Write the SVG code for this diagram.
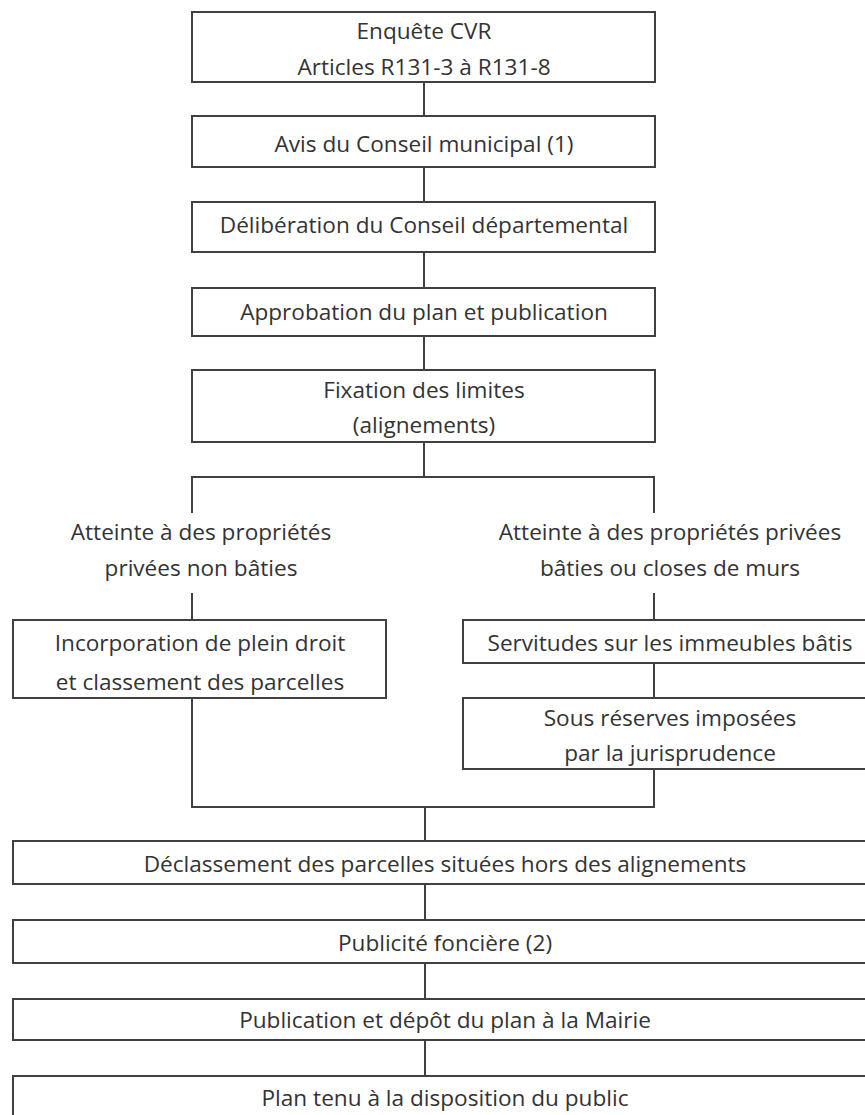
<svg xmlns="http://www.w3.org/2000/svg" width="865" height="1115" viewBox="0 0 865 1115">
<style>
.box{fill:#fff;stroke:#404040;stroke-width:2}
.ln{fill:none;stroke:#404040;stroke-width:2}
text{font-family:"Open Sans","Liberation Sans",sans-serif;font-size:22.6px;fill:#333;text-anchor:middle}
</style>
<rect x="0" y="0" width="865" height="1115" fill="#fff"/>
<g id="connectors">
<line class="ln" x1="424" y1="82" x2="424" y2="116"/>
<line class="ln" x1="424" y1="167" x2="424" y2="202"/>
<line class="ln" x1="424" y1="252" x2="424" y2="288"/>
<line class="ln" x1="424" y1="336" x2="424" y2="370"/>
<line class="ln" x1="424" y1="442" x2="424" y2="477"/>
<polyline class="ln" points="192,513 192,477 654,477 654,513"/>
<line class="ln" x1="192" y1="593" x2="192" y2="620"/>
<line class="ln" x1="654" y1="593" x2="654" y2="620"/>
<line class="ln" x1="654" y1="663" x2="654" y2="698"/>
<polyline class="ln" points="192,698 192,807 654,807 654,769"/>
<line class="ln" x1="425" y1="807" x2="425" y2="841"/>
<line class="ln" x1="425" y1="884" x2="425" y2="920"/>
<line class="ln" x1="425" y1="963" x2="425" y2="999"/>
<line class="ln" x1="425" y1="1040" x2="425" y2="1076"/>
</g>
<g id="n1"><rect class="box" x="192" y="12" width="463" height="70"/><text x="424" y="39">Enquête CVR</text><text x="424" y="75">Articles R131-3 à R131-8</text></g>
<g id="n2"><rect class="box" x="192" y="116" width="463" height="51"/><text x="424" y="152">Avis du Conseil municipal (1)</text></g>
<g id="n3"><rect class="box" x="192" y="202" width="463" height="50"/><text x="424" y="233">Délibération du Conseil départemental</text></g>
<g id="n4"><rect class="box" x="192" y="288" width="463" height="48"/><text x="424" y="320">Approbation du plan et publication</text></g>
<g id="n5"><rect class="box" x="192" y="370" width="463" height="72"/><text x="424" y="398">Fixation des limites</text><text x="424" y="433">(alignements)</text></g>
<g id="l1"><text x="201" y="540">Atteinte à des propriétés</text><text x="201" y="576">privées non bâties</text></g>
<g id="l2"><text x="670" y="540">Atteinte à des propriétés privées</text><text x="670" y="576">bâties ou closes de murs</text></g>
<g id="n6"><rect class="box" x="13" y="620" width="373" height="78"/><text x="200" y="651">Incorporation de plein droit</text><text x="200" y="690">et classement des parcelles</text></g>
<g id="n7"><rect class="box" x="463" y="620" width="414" height="43"/><text x="670" y="651">Servitudes sur les immeubles bâtis</text></g>
<g id="n8"><rect class="box" x="463" y="698" width="414" height="71"/><text x="670" y="726">Sous réserves imposées</text><text x="670" y="761">par la jurisprudence</text></g>
<g id="n9"><rect class="box" x="13" y="841" width="864" height="43"/><text x="445" y="872">Déclassement des parcelles situées hors des alignements</text></g>
<g id="n10"><rect class="box" x="13" y="920" width="864" height="43"/><text x="445" y="951">Publicité foncière (2)</text></g>
<g id="n11"><rect class="box" x="13" y="999" width="864" height="41"/><text x="445" y="1028">Publication et dépôt du plan à la Mairie</text></g>
<g id="n12"><rect class="box" x="13" y="1076" width="864" height="50"/><text x="445" y="1106">Plan tenu à la disposition du public</text></g>
</svg>
